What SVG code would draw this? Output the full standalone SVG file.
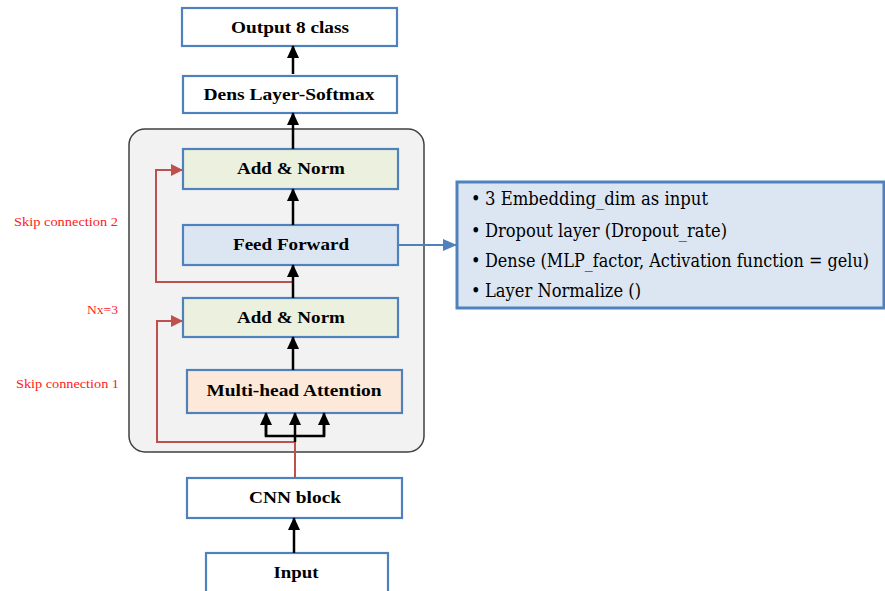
<svg xmlns="http://www.w3.org/2000/svg" width="885" height="591" viewBox="0 0 885 591">
<defs>
<marker id="ah" markerWidth="13" markerHeight="12" refX="12" refY="6" orient="auto" markerUnits="userSpaceOnUse" viewBox="0 0 13 12"><path d="M0,0 L13,6 L0,12 Z" fill="#000"/></marker>
<marker id="ar" markerWidth="12" markerHeight="12" refX="11" refY="6" orient="auto" markerUnits="userSpaceOnUse" viewBox="0 0 12 12"><path d="M0,0 L12,6 L0,12 Z" fill="#c0504d"/></marker>
<marker id="ab" markerWidth="14" markerHeight="14" refX="13" refY="7" orient="auto" markerUnits="userSpaceOnUse" viewBox="0 0 14 14"><path d="M0,1 L14,7 L0,13 Z" fill="#4f81bd"/></marker>
</defs>
<style>
.box{stroke:#4f81bd;stroke-width:2.2}
.lbl{font-family:"Liberation Serif","Times New Roman",serif;font-weight:bold;font-size:17px;fill:#000;text-anchor:middle}
.red{font-family:"Liberation Serif","Times New Roman",serif;font-size:13px;fill:#ff2020}
.blk{stroke:#000;stroke-width:2.5;fill:none}
.rd{stroke:#c0504d;stroke-width:2;fill:none}
.bul{font-family:"DejaVu Serif Condensed","DejaVu Serif",serif;font-size:18px;fill:#000}
</style>
<rect width="885" height="591" fill="#fff"/>
<g id="container"><rect x="129" y="129" width="295" height="323" rx="16" fill="#f2f2f2" stroke="#404040" stroke-width="1.5"/></g>
<g id="output"><rect class="box" x="182" y="8" width="215" height="38" fill="#fff"/><text class="lbl" x="290" y="33" textLength="118" lengthAdjust="spacingAndGlyphs">Output 8 class</text></g>
<g id="dense"><rect class="box" x="183" y="76" width="214" height="37" fill="#fff"/><text class="lbl" x="289" y="100" textLength="171" lengthAdjust="spacingAndGlyphs">Dens Layer-Softmax</text></g>
<g id="addnorm2"><rect class="box" x="183" y="149" width="215" height="40" fill="#ebf1de"/><text class="lbl" x="291" y="174" textLength="108" lengthAdjust="spacingAndGlyphs">Add &amp; Norm</text></g>
<g id="feedforward"><rect class="box" x="183" y="225" width="215" height="40" fill="#dce6f2"/><text class="lbl" x="291" y="250" textLength="116" lengthAdjust="spacingAndGlyphs">Feed Forward</text></g>
<g id="addnorm1"><rect class="box" x="183" y="298" width="215" height="39" fill="#ebf1de"/><text class="lbl" x="291" y="323" textLength="108" lengthAdjust="spacingAndGlyphs">Add &amp; Norm</text></g>
<g id="mha"><rect class="box" x="187" y="370" width="215" height="43" fill="#fde9d9"/><text class="lbl" x="294" y="396" textLength="175" lengthAdjust="spacingAndGlyphs">Multi-head Attention</text></g>
<g id="cnn"><rect class="box" x="187" y="478" width="215" height="40" fill="#fff"/><text class="lbl" x="295" y="503" textLength="92" lengthAdjust="spacingAndGlyphs">CNN block</text></g>
<g id="input"><rect class="box" x="206" y="553" width="182" height="45" fill="#fff"/><text class="lbl" x="296" y="578" textLength="45" lengthAdjust="spacingAndGlyphs">Input</text></g>
<g id="details"><rect x="457" y="182" width="427" height="126" fill="#dce6f2" stroke="#4f81bd" stroke-width="3"/>
<text class="bul" x="471" y="205">•</text><text class="bul" x="485" y="205" textLength="223" lengthAdjust="spacingAndGlyphs">3 Embedding_dim as input</text>
<text class="bul" x="471" y="237">•</text><text class="bul" x="485" y="237" textLength="242" lengthAdjust="spacingAndGlyphs">Dropout layer (Dropout_rate)</text>
<text class="bul" x="471" y="267">•</text><text class="bul" x="485" y="267" textLength="384" lengthAdjust="spacingAndGlyphs">Dense (MLP_factor, Activation function = gelu)</text>
<text class="bul" x="471" y="297">•</text><text class="bul" x="485" y="297" textLength="156" lengthAdjust="spacingAndGlyphs">Layer Normalize ()</text>
</g>
<g id="labels">
<text class="red" x="14" y="226" textLength="104" lengthAdjust="spacingAndGlyphs">Skip connection 2</text>
<text class="red" x="87" y="314" textLength="31" lengthAdjust="spacingAndGlyphs">Nx=3</text>
<text class="red" x="16" y="388" textLength="103" lengthAdjust="spacingAndGlyphs">Skip connection 1</text>
</g>
<g id="connectors">
<line class="blk" x1="293" y1="74" x2="293" y2="46" marker-end="url(#ah)"/>
<line class="blk" x1="293" y1="149" x2="293" y2="113" marker-end="url(#ah)"/>
<line class="blk" x1="293" y1="225" x2="293" y2="189" marker-end="url(#ah)"/>
<path class="rd" d="M293,298 V282 H156 V170 H182" marker-end="url(#ar)"/>
<line class="blk" x1="293" y1="298" x2="293" y2="265" marker-end="url(#ah)"/>
<line class="blk" x1="293" y1="370" x2="293" y2="337" marker-end="url(#ah)"/>
<path class="rd" d="M295,478 V442 H157 V321 H182" marker-end="url(#ar)"/>
<path class="blk" d="M266,420 V436 H324 V420"/>
<line class="blk" x1="295" y1="442" x2="295" y2="413" marker-end="url(#ah)"/>
<line class="blk" x1="266" y1="436" x2="266" y2="413" marker-end="url(#ah)"/>
<line class="blk" x1="324" y1="436" x2="324" y2="413" marker-end="url(#ah)"/>
<line class="blk" x1="294" y1="553" x2="294" y2="518" marker-end="url(#ah)"/>
<line x1="398" y1="245" x2="456" y2="245" stroke="#4f81bd" stroke-width="2.2" marker-end="url(#ab)"/>
</g>
</svg>
